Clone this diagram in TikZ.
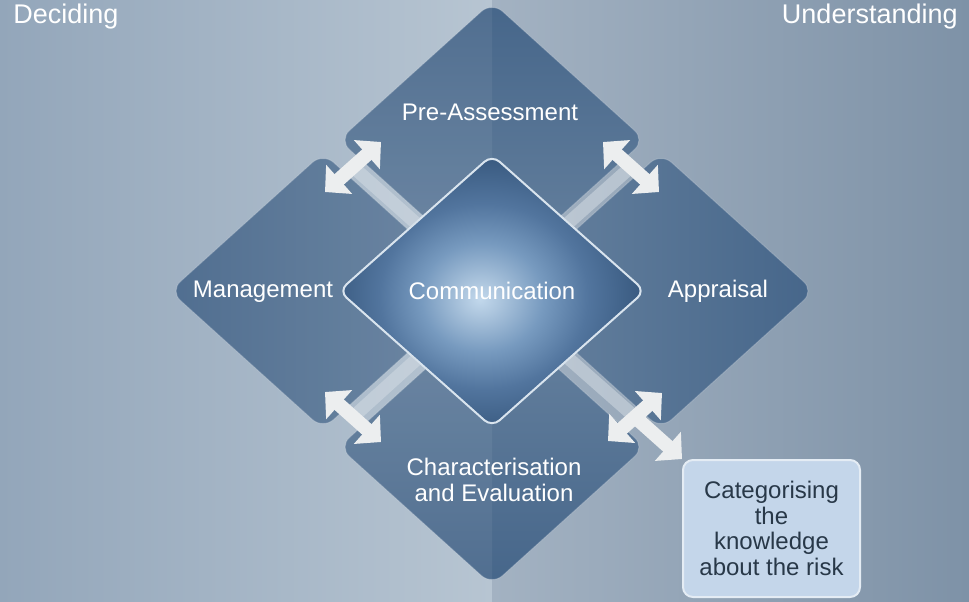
\documentclass[tikz,border=0pt]{standalone}
\usepackage{fontspec}
\setmainfont{Liberation Sans}
\usepackage{tikz}
\usetikzlibrary{arrows.meta,positioning,shapes.geometric,calc}

\definecolor{bgleftA}{HTML}{93A6BA}
\definecolor{bgleftB}{HTML}{B7C5D2}
\definecolor{bgrightA}{HTML}{A3B2C2}
\definecolor{bgrightB}{HTML}{7E92A7}
\definecolor{petaldark}{HTML}{46668A}
\definecolor{petallight}{HTML}{67829F}
\definecolor{glowA}{HTML}{C2D8EC}
\definecolor{glowB}{HTML}{ADC6DE}
\definecolor{glowC}{HTML}{779ABF}
\definecolor{glowD}{HTML}{52759E}
\definecolor{glowE}{HTML}{3A5B81}
\definecolor{rim}{HTML}{D9E4EE}
\definecolor{swapwhite}{HTML}{ECEEEF}
\definecolor{feedgrey}{HTML}{D2DBE3}
\definecolor{notefill}{HTML}{C4D6EA}
\definecolor{notedraw}{HTML}{E4ECF4}
\definecolor{notetext}{HTML}{283848}

\pgfdeclareradialshading{commglow}{\pgfpoint{-2bp}{-1.5bp}}{%
  color(0bp)=(glowA); color(3bp)=(glowB); color(10bp)=(glowC);
  color(17bp)=(glowD); color(25bp)=(glowE); color(50bp)=(glowE)}

\begin{document}
\begin{tikzpicture}[
    x=0.5pt, y=-0.5pt,
    petal/.style={diamond, inner sep=0pt, outer sep=0pt, minimum width=153pt,
      minimum height=138pt, rounded corners=7pt, draw=white, draw opacity=.2,
      line width=.5pt},
    core/.style={diamond, inner sep=0pt, outer sep=0pt, minimum width=153pt,
      minimum height=136pt, rounded corners=5pt, shade, shading=commglow,
      draw=rim, line width=1pt, text=white, font=\fontsize{12}{13}\selectfont},
    tag/.style={text=white, font=\fontsize{12}{13}\selectfont, align=center,
      inner sep=0pt},
    side/.style={text=white, font=\fontsize{13.5}{15}\selectfont, inner sep=0pt},
    feed/.style={draw=feedgrey, draw opacity=.55, line width=6.5pt},
    xchange/.style={draw=swapwhite, line width=7pt},
    note/.style={rectangle, rounded corners=5pt, fill=notefill, draw=notedraw,
      line width=1pt, minimum width=88.5pt, minimum height=68.5pt, align=center,
      text=notetext, font=\fontsize{12}{12.9}\selectfont, inner sep=0pt},
    >={Triangle[length=9.5pt,width=19pt]}]
  \useasboundingbox (0,0) rectangle (969,601);
  % two halves of the background
  \shade[left color=bgleftA, right color=bgleftB] (0,0) rectangle (492,601);
  \shade[left color=bgrightA, right color=bgrightB] (492,0) rectangle (969,601);

  % outer steps
  \node[petal, top color=petaldark, bottom color=petallight] (pre) at (492,140) {};
  \node[petal, left color=petaldark, right color=petallight] (man) at (323,291) {};
  \node[petal, left color=petallight, right color=petaldark] (app) at (661,291) {};
  \node[petal, top color=petallight, bottom color=petaldark] (charev) at (492,447) {};
  \begin{scope}
    \clip (0,0) rectangle (492,601);
    \foreach \p in {pre,man,charev}
      \fill[white, fill opacity=.06, rounded corners=7pt]
        (\p.north) -- (\p.east) -- (\p.south) -- (\p.west) -- cycle;
  \end{scope}

  \node[core] (comm) at (492,291) {Communication};
  \node[note] (note) at (771.5,528.5) {Categorising\\the\\knowledge\\about the risk};

  % exchange arrows between the steps
  \coordinate (pm) at (353,167);
  \coordinate (pa) at (631,167);
  \coordinate (mc) at (353,417);
  \coordinate (ac) at (635,417);
  \foreach \c in {pm,pa,mc,ac}
    \draw[feed] (\c) -- (comm);
  \draw[xchange,<->] ($(pm)+(-28,25)$) -- ($(pm)+(28,-25)$);
  \draw[xchange,<->] ($(pa)+(-28,-25)$) -- ($(pa)+(28,25)$);
  \draw[xchange,<->] ($(mc)+(-28,-25)$) -- ($(mc)+(28,25)$);
  \draw[xchange,<->] ($(ac)+(-27,24)$) -- ($(ac)+(27,-24)$);
  \draw[xchange,->] (ac) -- (note.north west);

  \node[tag, anchor=base] (pretag) at (490,120) {Pre-Assessment};
  \node[tag, anchor=base] (mantag) at (263,297) {Management};
  \node[tag, anchor=base] (apptag) at (718,297) {Appraisal};
  \node[tag] (chartag) at (494,480) {Characterisation\\and Evaluation};
  \node[side, anchor=base west] (decide) at (13,23) {Deciding};
  \node[side, anchor=base east] (understand) at (958,23) {Understanding};
\end{tikzpicture}
\end{document}
